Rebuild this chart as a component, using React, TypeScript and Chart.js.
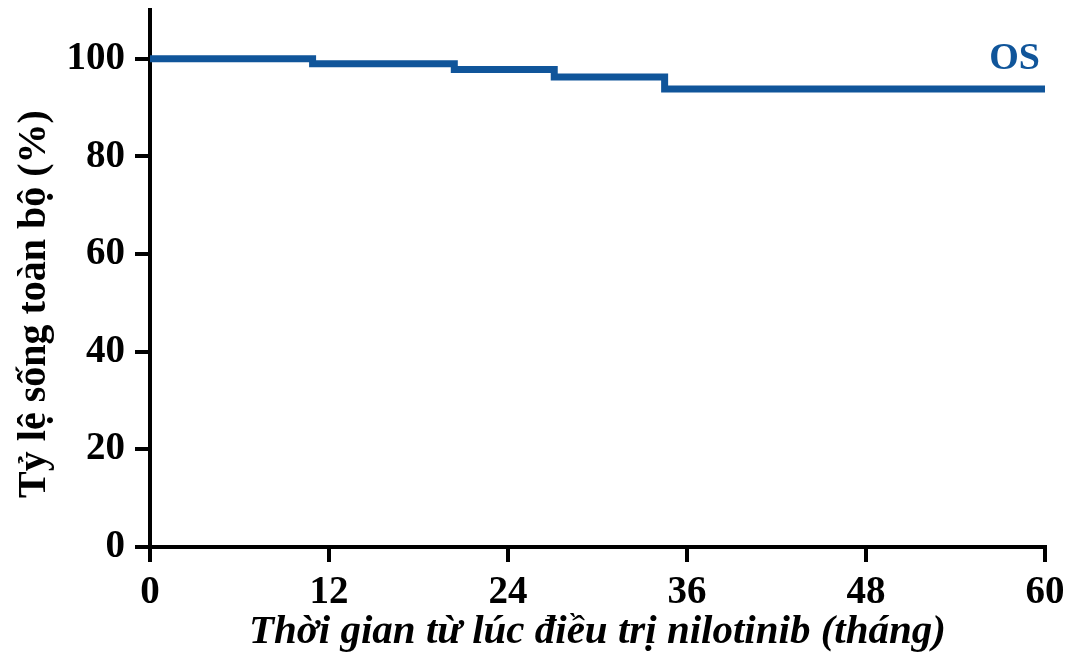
import React, { useEffect, useRef } from "react";
import { Chart, registerables } from "chart.js";

Chart.register(...registerables);

const months = [0, 10.9, 20.4, 27.1, 34.5, 60];
const survival = [100, 99, 97.8, 96.3, 93.8, 93.8];
const xTicks = [0, 12, 24, 36, 48, 60];
const yTicks = [0, 20, 40, 60, 80, 100];
const seriesLabel = "OS";
const xTitle = "Thời gian từ lúc điều trị nilotinib (tháng)";
const yTitle = "Tỷ lệ sống toàn bộ (%)";

const BLUE = "#10559a";
const FONT = "'Liberation Serif', 'Times New Roman', serif";

const textPlugin = {
  id: "extraText",
  afterDatasetsDraw(chart: any) {
    const { ctx, scales } = chart;
    const x = scales.x.getPixelForValue(60);
    const y = scales.y.getPixelForValue(100);
    ctx.save();
    ctx.fillStyle = BLUE;
    ctx.font = `bold 38px ${FONT}`;
    ctx.textAlign = "right";
    ctx.textBaseline = "middle";
    ctx.fillText(seriesLabel, x - 5, y);
    ctx.restore();

    ctx.save();
    ctx.fillStyle = "#000";
    ctx.font = `bold 40px ${FONT}`;
    ctx.textAlign = "center";
    ctx.textBaseline = "middle";
    ctx.translate(35, 304);
    ctx.rotate(-Math.PI / 2);
    ctx.fillText(yTitle, 0, 0);
    ctx.restore();
  },
};

export default function App() {
  const ref = useRef<HTMLCanvasElement>(null);
  useEffect(() => {
    document.body.style.margin = "0";
    const chart = new Chart(ref.current!, {
      type: "line",
      data: {
        datasets: [
          {
            label: seriesLabel,
            data: months.map((m, i) => ({ x: m, y: survival[i] })),
            borderColor: BLUE,
            borderWidth: 7,
            stepped: "before",
            pointRadius: 0,
            fill: false,
          },
        ],
      },
      options: {
        animation: false,
        responsive: false,
        layout: { padding: { top: 10, right: 28, left: 0, bottom: 0 } },
        plugins: { legend: { display: false }, tooltip: { enabled: false } },
        scales: {
          x: {
            type: "linear",
            min: 0,
            max: 60,
            afterBuildTicks: (s: any) => {
              s.ticks = xTicks.map((v) => ({ value: v }));
            },
            afterFit: (s: any) => {
              s.height = 112;
              s.paddingLeft = 0;
              s.paddingRight = 0;
            },
            border: { color: "#000", width: 4 },
            grid: {
              drawOnChartArea: false,
              drawTicks: true,
              tickLength: 15,
              tickColor: "#000",
              lineWidth: 4,
            },
            ticks: {
              color: "#000",
              padding: 8,
              maxRotation: 0,
              font: { family: FONT, size: 39, weight: "bold" },
            },
            title: {
              display: true,
              text: xTitle,
              color: "#000",
              padding: { top: 0, bottom: 2 },
              font: { family: FONT, size: 41, weight: "bold", style: "italic" },
            },
          },
          y: {
            type: "linear",
            min: 0,
            max: 110,
            afterBuildTicks: (s: any) => {
              s.ticks = yTicks.map((v) => ({ value: v }));
            },
            afterFit: (s: any) => {
              s.width = 150;
              s.paddingTop = 0;
              s.paddingBottom = 0;
            },
            border: { color: "#000", width: 4 },
            grid: {
              drawOnChartArea: false,
              drawTicks: true,
              tickLength: 15,
              tickColor: "#000",
              lineWidth: 4,
            },
            ticks: {
              color: "#000",
              padding: 10,
              font: { family: FONT, size: 39, weight: "bold" },
            },
          },
        },
      },
      plugins: [textPlugin],
    } as any);
    return () => chart.destroy();
  }, []);
  return (
    <div style={{ position: "fixed", left: 0, top: 0, width: 1073, height: 659, background: "#fff" }}>
      <canvas ref={ref} width={1073} height={659} />
    </div>
  );
}
